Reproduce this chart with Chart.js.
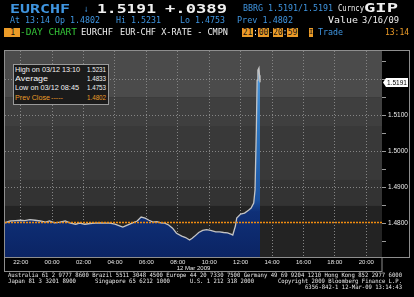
<!DOCTYPE html>
<html>
<head>
<meta charset="utf-8">
<script src="https://cdn.jsdelivr.net/npm/chart.js@4.4.1/dist/chart.umd.min.js"></script>
<style>
html, body { margin: 0; padding: 0; background: #000; width: 414px; height: 297px; overflow: hidden; }
#wrap { position: relative; width: 414px; height: 297px; }
#grafico { position: absolute; left: 0; top: 0; }
.t { position: absolute; white-space: pre; line-height: 1; font-family: "DejaVu Sans Mono", monospace; transform-origin: 0 50%; z-index: 2; }
.box { position: absolute; top: 27.5px; height: 9.5px; background: #eb9b28; color: #111; font: 8px "DejaVu Sans Mono", monospace; line-height: 9.5px; text-align: center; z-index: 2; }
#stats { position: absolute; left: 13px; top: 64px; width: 94px; height: 39px; background: #1b1b1b; border: 1px solid #9a9a9a; z-index: 2; }
.s { font-family: "Liberation Sans", Arial, sans-serif; font-size: 8px; color: #f2f2f2; }
.azul { color: #3f95e0; }
.branco { color: #efefef; }
.laranja { color: #eb9b28; }
.foot { font-size: 6px; color: #e8e8e8; }
</style>
</head>
<body>
<div id="wrap">
<canvas id="grafico" width="414" height="297"></canvas>

<!-- cabeçalho -->
<span class="t azul" style="font-size:12px;font-weight:bold" data-x="10" data-y="8.7" data-w="60">EURCHF</span>
<span class="t azul" style="font-size:10px" data-x="84" data-y="8.7" data-w="4">↓</span>
<span class="t branco" style="font-size:12px;font-weight:bold" data-x="97" data-y="8.7" data-w="59">1.5191</span>
<span class="t branco" style="font-size:12px;font-weight:bold" data-x="165" data-y="8.7" data-w="62">+.0389</span>
<span class="t azul" style="font-size:9px" data-x="243" data-y="8.7" data-w="90">BBRG 1.5191/1.5191</span>
<span class="t branco" style="font-size:9px" data-x="338" data-y="8.9" data-w="26">Curncy</span>
<span class="t branco" style="font-size:12px;font-weight:bold" data-x="364" data-y="8.2" data-w="34">GIP</span>

<span class="t azul" style="font-size:8.5px" data-x="10" data-y="20.7" data-w="90">At 13:14 Op 1.4802</span>
<span class="t azul" style="font-size:8.5px" data-x="116" data-y="20.7" data-w="45">Hi 1.5231</span>
<span class="t azul" style="font-size:8.5px" data-x="180" data-y="20.7" data-w="45">Lo 1.4753</span>
<span class="t azul" style="font-size:8.5px" data-x="237" data-y="20.7" data-w="56">Prev 1.4802</span>
<span class="t branco" style="font-size:8.5px" data-x="328" data-y="20.7" data-w="30">Value</span>
<span class="t branco" style="font-size:8.5px" data-x="362" data-y="20.7" data-w="37">3/16/09</span>

<div class="box" style="left:4px;width:16px;text-align:right;padding-right:0">1&nbsp;</div>
<span class="t" style="font-size:8.5px;color:#34c238" data-x="20" data-y="32.2" data-w="57">-DAY CHART</span>
<span class="t branco" style="font-size:8.5px" data-x="81" data-y="32.2" data-w="32">EURCHF</span>
<span class="t branco" style="font-size:8.5px" data-x="120" data-y="32.2" data-w="108">EUR-CHF X-RATE - CMPN</span>
<div class="box" style="left:242px;width:11px">21</div>
<span class="t branco" style="font-size:8.5px" data-x="253" data-y="32.2" data-w="5">:</span>
<div class="box" style="left:258px;width:11px">00</div>
<span class="t branco" style="font-size:8.5px" data-x="269" data-y="32.2" data-w="4">-</span>
<div class="box" style="left:273px;width:10px">20</div>
<span class="t branco" style="font-size:8.5px" data-x="283" data-y="32.2" data-w="4">:</span>
<div class="box" style="left:287px;width:11px">59</div>
<div class="box" style="left:309px;width:4px;font-size:7px">I</div>
<span class="t azul" style="font-size:8.5px" data-x="318" data-y="32.2" data-w="25">Trade</span>
<span class="t laranja" style="font-size:8.5px" data-x="385" data-y="32.2" data-w="24">13:14</span>

<!-- caixa de estatísticas -->
<div id="stats"></div>
<span class="t s" data-x="15" data-y="69.5" data-w="65">High on 03/12 13:10</span>
<span class="t s" data-x="87" data-y="69.5" data-w="19">1.5231</span>
<span class="t s" data-x="15" data-y="78.5" data-w="33">Average</span>
<span class="t s" data-x="87" data-y="78.5" data-w="19">1.4833</span>
<span class="t s" data-x="15" data-y="88" data-w="64">Low on 03/12 08:45</span>
<span class="t s" data-x="87" data-y="88" data-w="19">1.4753</span>
<span class="t s laranja" data-x="15" data-y="98" data-w="35">Prev Close</span>
<span class="t s laranja" data-x="51" data-y="98" data-w="12">-----</span>
<span class="t s laranja" data-x="87" data-y="98" data-w="19">1.4802</span>

<!-- rodapé -->
<span class="t foot" data-x="8" data-y="274.5" data-w="394">Australia 61 2 9777 8600 Brazil 5511 3048 4500 Europe 44 20 7330 7500 Germany 49 69 9204 1210 Hong Kong 852 2977 6000</span>
<span class="t foot" data-x="8" data-y="280.5" data-w="68">Japan 81 3 3201 8900</span>
<span class="t foot" data-x="95" data-y="280.5" data-w="75">Singapore 65 6212 1000</span>
<span class="t foot" data-x="190" data-y="280.5" data-w="64">U.S. 1 212 318 2000</span>
<span class="t foot" data-x="278" data-y="280.5" data-w="124">Copyright 2009 Bloomberg Finance L.P.</span>
<span class="t foot" data-x="305" data-y="286.5" data-w="97">6356-842-1 12-Mar-09 13:14:43</span>
</div>

<script>
// Cotações EURCHF do dia (horário local, a partir das 21:00)
const horarios = [
    '21:00', '21:20', '21:40', '22:00', '22:15', '22:35', '22:55', '23:15', '23:35', '23:50',
    '00:10', '00:30', '00:50', '01:10', '01:30', '01:45', '02:05', '02:25', '02:45', '03:05',
    '03:20', '03:40', '04:00', '04:20', '04:30', '04:45', '05:05', '05:25', '05:40', '05:55',
    '06:10', '06:25', '06:40', '06:55', '07:10', '07:25', '07:40', '07:55', '08:15', '08:30',
    '08:45', '08:55', '09:05', '09:20', '09:35', '09:50', '10:05', '10:25', '10:40', '10:55',
    '11:10', '11:25', '11:30', '11:40', '11:45', '12:00', '12:15', '12:30', '12:40', '12:50',
    '12:55', '13:00', '13:03', '13:06', '13:10', '13:12', '13:14'
];
const cotacoes = [
    1.4801, 1.4806, 1.4807, 1.4808, 1.4807, 1.4810, 1.4808, 1.4806, 1.4803, 1.4806,
    1.4801, 1.4803, 1.4806, 1.4800, 1.4797, 1.4800, 1.4797, 1.4799, 1.4800, 1.4801,
    1.4800, 1.4800, 1.4797, 1.4792, 1.4789, 1.4794, 1.4800, 1.4806, 1.4817, 1.4814,
    1.4808, 1.4803, 1.4804, 1.4801, 1.4800, 1.4795, 1.4786, 1.4772, 1.4764, 1.4760,
    1.4753, 1.4758, 1.4764, 1.4774, 1.4780, 1.4782, 1.4780, 1.4776, 1.4776, 1.4774,
    1.4773, 1.4769, 1.4767, 1.4792, 1.4814, 1.4825, 1.4828, 1.4836, 1.4842, 1.4856,
    1.4892, 1.5058, 1.5197, 1.5225, 1.5231, 1.5211, 1.5191
];
const fechamentoAnterior = 1.4802;
const rotulosX = ['22:00', '00:00', '02:00', '04:00', '06:00', '08:00', '10:00', '12:00', '14:00', '16:00', '18:00', '20:00'];
const ticksY = [1.475, 1.48, 1.485, 1.49, 1.495, 1.50, 1.505, 1.51, 1.515, 1.52, 1.525];
const rotulosY = [1.48, 1.49, 1.50, 1.51];
const linhasY = [1.49, 1.50, 1.51, 1.52];

// horas passadas desde as 21:00
function horas(s) {
    const [h, m] = s.split(':').map(Number);
    let v = h + m / 60 - 21;
    if (v < 0) v += 24;
    return v;
}

// ajusta os textos html na largura medida da tela original
document.querySelectorAll('[data-w]').forEach(el => {
    const r = el.getBoundingClientRect();
    el.style.left = el.dataset.x + 'px';
    el.style.top = (parseFloat(el.dataset.y) - r.height / 2) + 'px';
    el.style.transform = `scaleX(${parseFloat(el.dataset.w) / r.width})`;
});

const perto = (lista, v) => lista.some(l => Math.abs(l - v) < 1e-6);

// faixas cinzas do fundo
const fundo = {
    id: 'fundo',
    beforeDraw(chart) {
        const { ctx, chartArea: a } = chart;
        const faixas = [[0, 0.224, '#4b4b4b'], [0.224, 0.364, '#3f3f3f'], [0.364, 0.626, '#393939'], [0.626, 0.752, '#333333'], [0.752, 1, '#232323']];
        ctx.save();
        faixas.forEach(([i, f, cor]) => {
            ctx.fillStyle = cor;
            ctx.fillRect(a.left, a.top + a.height * i, a.width, a.height * (f - i) + 0.5);
        });
        ctx.restore();
    },
    afterDraw(chart) {
        const { ctx, chartArea: a, scales } = chart;
        ctx.save();
        ctx.strokeStyle = '#8e8e8e';
        ctx.lineWidth = 1;
        const direita = chart.width - 5;
        ctx.strokeRect(a.left - 0.5, a.top - 0.5, direita - a.left + 1, a.height + 1);
        ctx.strokeRect(a.left - 0.5, a.bottom + 0.5, a.width + 0.5, 14);
        // marcador do último valor
        const ultimo = cotacoes[cotacoes.length - 1];
        const y = Math.round(scales.y.getPixelForValue(ultimo)) + 0.5;
        ctx.fillStyle = '#ffffff';
        ctx.beginPath();
        ctx.moveTo(a.right + 1, y);
        ctx.lineTo(a.right + 4, y - 4.5);
        ctx.lineTo(direita - 1, y - 4.5);
        ctx.lineTo(direita - 1, y + 4.5);
        ctx.lineTo(a.right + 4, y + 4.5);
        ctx.closePath();
        ctx.fill();
        ctx.fillStyle = '#000';
        ctx.font = '6.5px "Liberation Sans", Arial, sans-serif';
        ctx.textBaseline = 'middle';
        ctx.fillText(ultimo.toFixed(4), a.right + 5, y + 0.5);
        ctx.restore();
    }
};

const ctx = document.getElementById('grafico').getContext('2d');
const grafico = new Chart(ctx, {
    type: 'line',
    data: {
        datasets: [
            {
                label: 'Prev Close',
                data: [{ x: 0, y: fechamentoAnterior }, { x: 24, y: fechamentoAnterior }],
                borderColor: '#f08c10',
                borderWidth: 1.5,
                borderDash: [2, 1],
                pointRadius: 0,
                fill: false,
                order: 0
            },
            {
                label: 'EURCHF',
                data: horarios.map((h, i) => ({ x: horas(h), y: cotacoes[i] })),
                borderColor: '#c4c4c4',
                borderWidth: 1.3,
                pointRadius: 0,
                tension: 0,
                fill: 'start',
                backgroundColor: (c) => {
                    const a = c.chart.chartArea;
                    if (!a) return '#0c2766';
                    const g = c.chart.ctx.createLinearGradient(0, a.top, 0, a.bottom);
                    g.addColorStop(0, '#5aa6e6');
                    g.addColorStop(0.35, '#2e78c2');
                    g.addColorStop(0.72, '#1b52a0');
                    g.addColorStop(0.78, '#0f3078');
                    g.addColorStop(1, '#0b2464');
                    return g;
                },
                order: 1
            }
        ]
    },
    options: {
        responsive: false,
        animation: false,
        layout: { padding: { left: 5, right: 5, top: 51, bottom: 25 } },
        plugins: { legend: { display: false }, tooltip: { enabled: false } },
        scales: {
            x: {
                type: 'linear',
                min: 0,
                max: 24,
                afterBuildTicks: s => { s.ticks = rotulosX.map(r => ({ value: horas(r) })); },
                afterFit: s => { s.height = 15; },
                ticks: {
                    color: '#e6e6e6',
                    font: { family: 'Liberation Sans', size: 6 },
                    padding: 2,
                    maxRotation: 0,
                    autoSkip: false,
                    callback: (v, i) => rotulosX[i]
                },
                grid: { color: '#858585', drawTicks: false, lineWidth: 1 },
                border: { display: false, dash: [1, 2] },
                title: {
                    display: true,
                    text: '12 Mar 2009',
                    color: '#e6e6e6',
                    font: { family: 'Liberation Sans', size: 6 },
                    padding: { top: 0, bottom: 0 }
                }
            },
            y: {
                position: 'right',
                min: 1.4706,
                max: 1.5278,
                afterBuildTicks: s => { s.ticks = ticksY.map(v => ({ value: v })); },
                afterFit: s => { s.width = 27; },
                ticks: {
                    color: '#ececec',
                    font: { family: 'Liberation Sans', size: 6.5 },
                    padding: 2,
                    callback: v => perto(rotulosY, v) ? v.toFixed(4) : ''
                },
                grid: {
                    color: c => perto(linhasY, c.tick.value) ? '#858585' : 'rgba(0,0,0,0)',
                    tickColor: '#9a9a9a',
                    tickLength: 4,
                    tickBorderDash: [],
                    lineWidth: 1
                },
                border: { display: false, dash: [1, 2] }
            }
        }
    },
    plugins: [fundo]
});
</script>
</body>
</html>
